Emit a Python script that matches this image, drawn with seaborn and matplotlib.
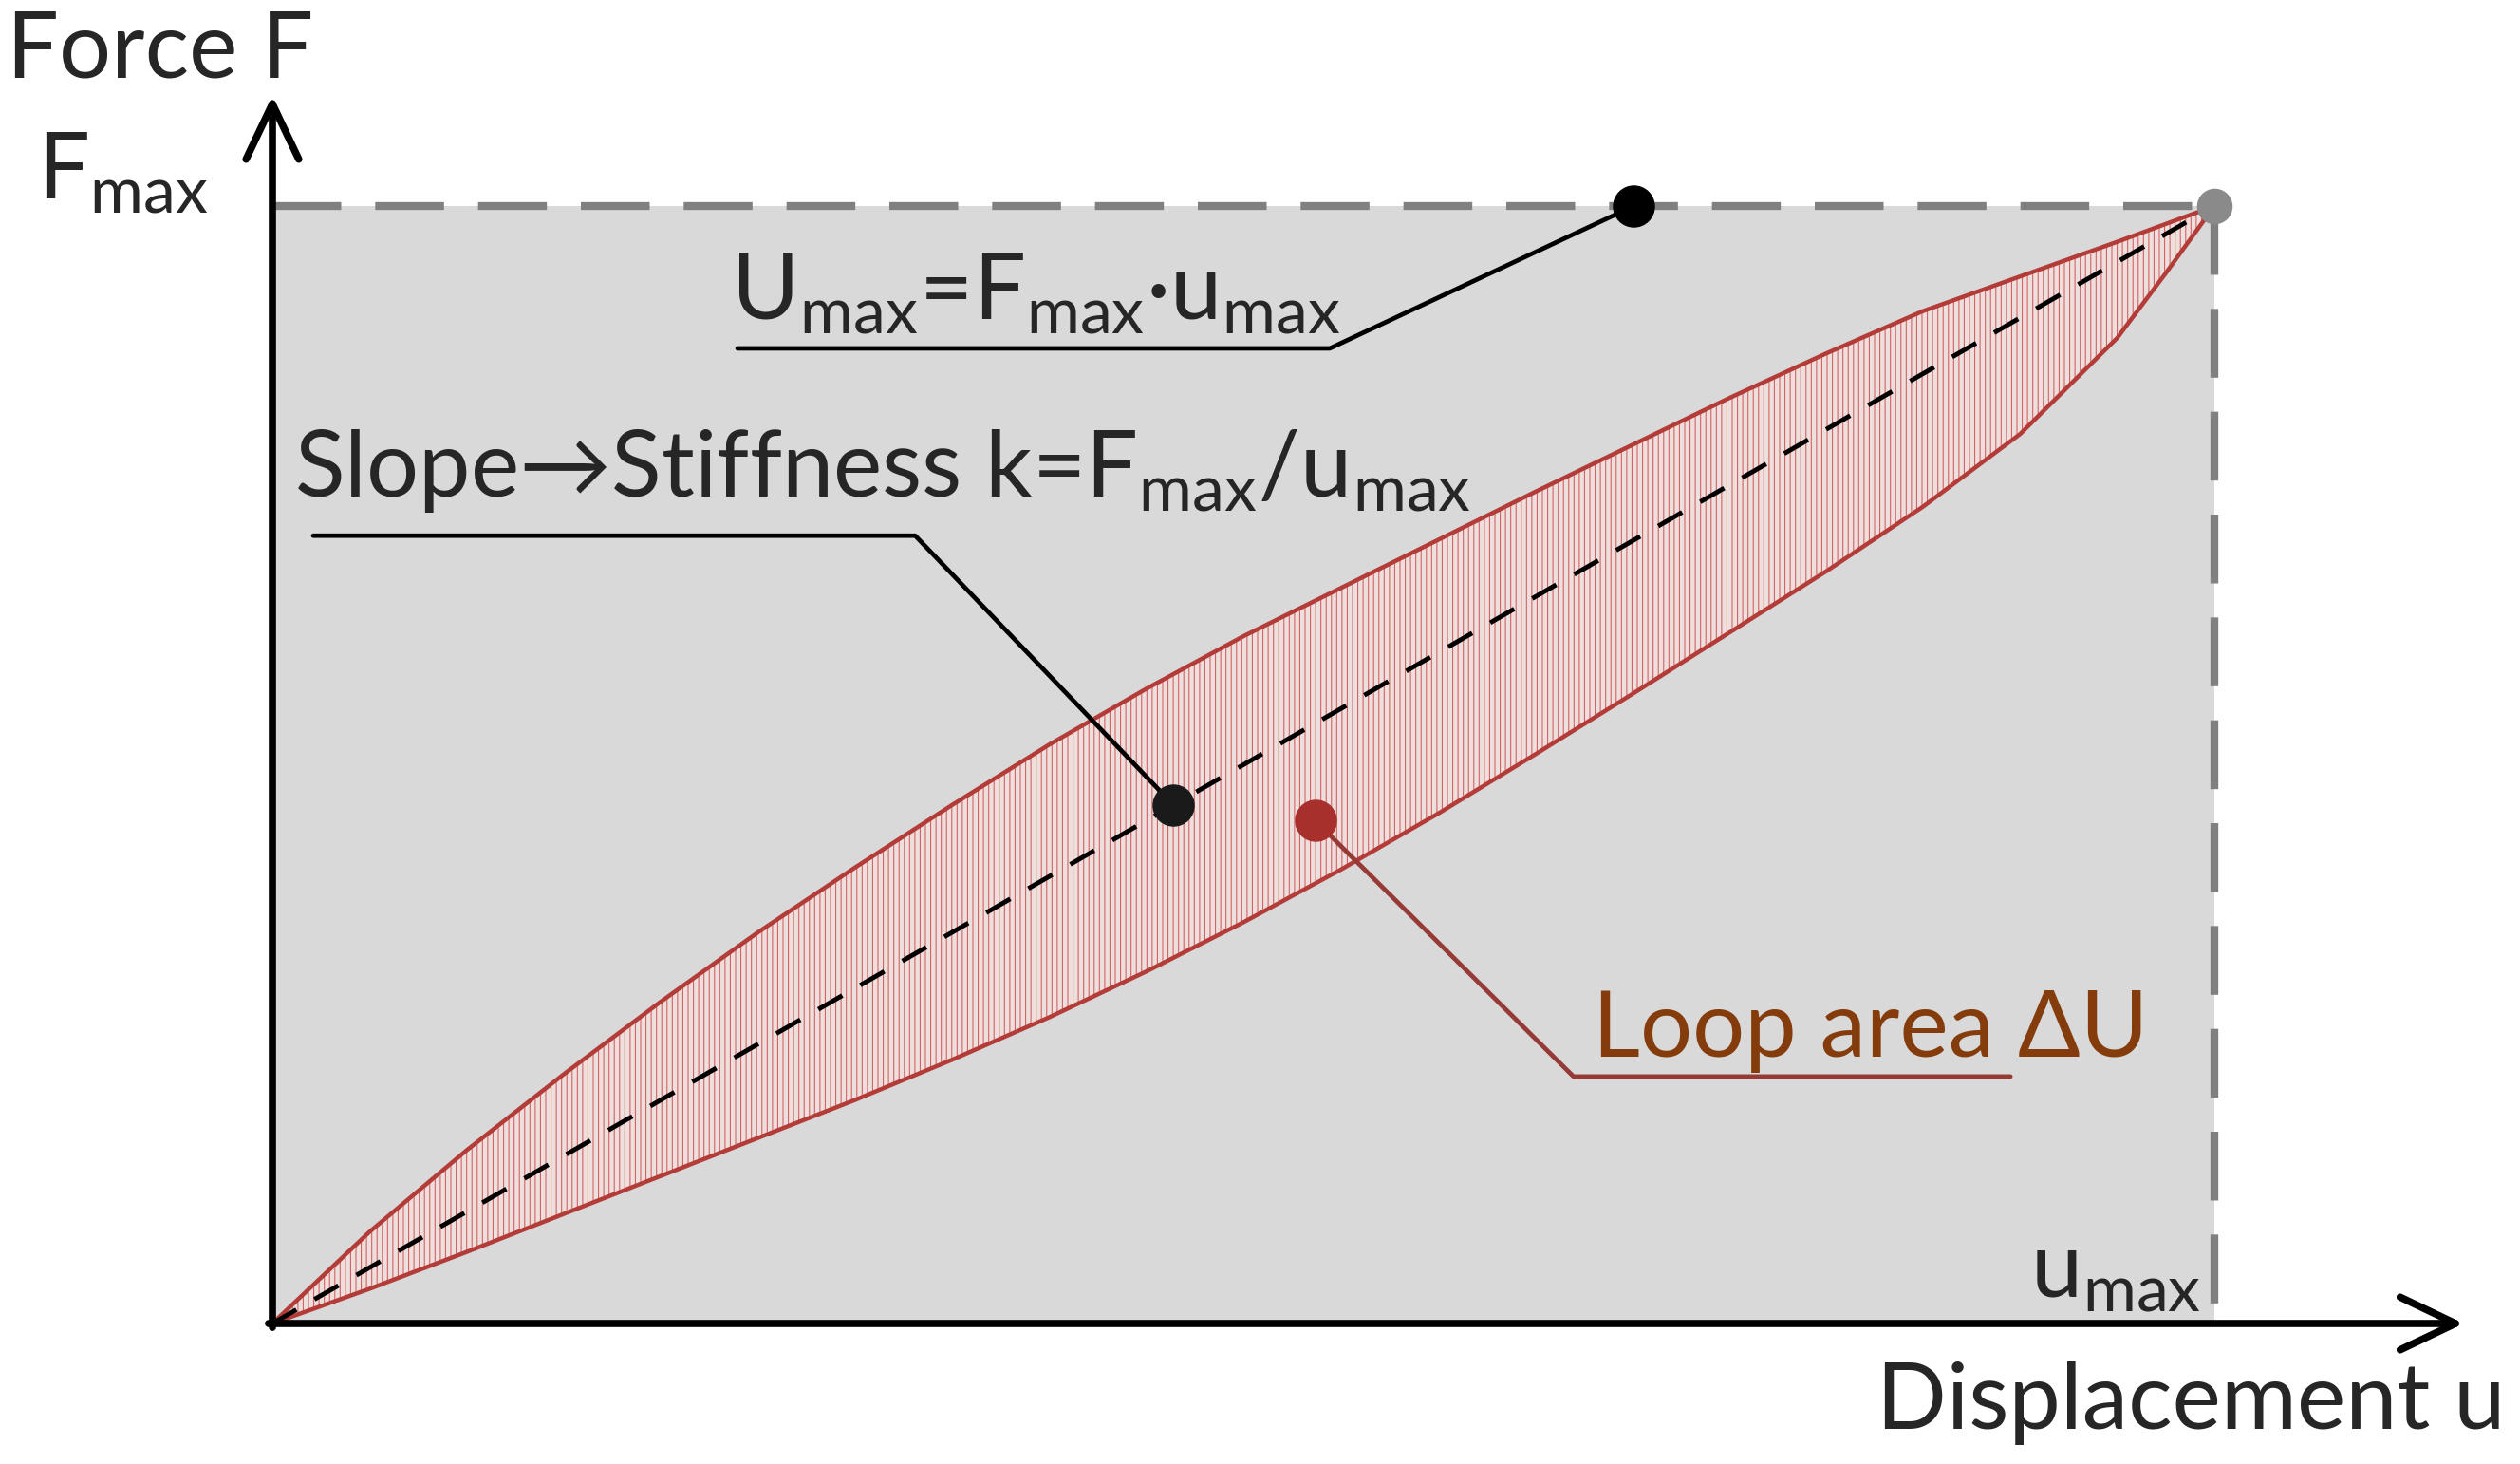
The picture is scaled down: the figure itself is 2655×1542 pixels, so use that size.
import matplotlib
matplotlib.use("Agg")
import pandas as pd
import matplotlib.pyplot as plt
import seaborn as sns

# Hysteresis loop, normalised: displacement u/u_max and force F/F_max
loop_u = [0, 0.05, 0.1, 0.15, 0.2, 0.25, 0.3, 0.35, 0.4, 0.45, 0.5, 0.55, 0.6,
          0.65, 0.7, 0.75, 0.8, 0.85, 0.9, 0.95, 0.975, 1.0]
upper_F = [0, 0.082, 0.155, 0.223, 0.288, 0.350, 0.408, 0.464, 0.518, 0.568, 0.615,
           0.658, 0.701, 0.744, 0.786, 0.828, 0.868, 0.906, 0.937, 0.968, 0.984, 1.0]
lower_F = [0, 0.031, 0.064, 0.098, 0.132, 0.166, 0.200, 0.236, 0.274, 0.315, 0.359,
           0.406, 0.456, 0.509, 0.563, 0.618, 0.673, 0.731, 0.796, 0.882, 0.940, 1.0]

# secant (stiffness) line and the max point
secant_u = [0, 1.0]
secant_F = [0, 1.0]
max_u, max_F = 1.0, 1.0

# annotated points
umax_pt = (0.701, 1.0)
slope_pt = (0.464, 0.464)
loop_pt = (0.537, 0.450)

# labels
force_label = "Force F"
disp_label = "Displacement u"
fmax_label = "F$_\\mathregular{max}$"
umax_label = "u$_\\mathregular{max}$"
energy_label = "U$_\\mathregular{max}$=F$_\\mathregular{max}$·u$_\\mathregular{max}$"
slope_label = "Slope→Stiffness k=F$_\\mathregular{max}$/u$_\\mathregular{max}$"
loop_label = "Loop area ΔU"

sns.set_style("white")
plt.rcParams['font.family'] = ['Lato', 'DejaVu Sans']
plt.rcParams['hatch.linewidth'] = 0.8

LOOP_RED = '#b33c38'
TEXT_BROWN = '#843c0c'
GREY = '#808080'
FS = 70

fig = plt.figure(figsize=(26.55, 15.42), dpi=100)
ax = fig.add_axes([0, 0, 1, 1])
ax.set_xlim(-287 / 2046, 2368 / 2046)
ax.set_ylim(-148 / 1177, 1394 / 1177)
ax.set_axis_off()

# grey work box 0..u_max x 0..F_max
ax.fill_between([0, max_u], 0, max_F, color='#d9d9d9', lw=0, zorder=1)

# hatched loop
ax.fill_between(loop_u, lower_F, upper_F, facecolor='#eedfde',
                edgecolor='#d06662', hatch='|||', linewidth=0, zorder=2)
loop_df = pd.DataFrame({
    'u': loop_u + loop_u,
    'F': upper_F + lower_F,
    'branch': ['upper'] * len(loop_u) + ['lower'] * len(loop_u),
})
sns.lineplot(data=loop_df, x='u', y='F', units='branch', estimator=None,
             sort=False, color=LOOP_RED, lw=3.2, legend=False, ax=ax, zorder=3)

# secant line
ax.plot(secant_u, secant_F, color='black', lw=3.5, dashes=(6, 4.5), zorder=4)

# grey dashed limits
ax.plot([0, max_u], [max_F, max_F], color=GREY, lw=6, dashes=(8.7, 4.3), zorder=4)
ax.plot([max_u, max_u], [max_F, 0], color=GREY, lw=6, dashes=(8.7, 4.3), zorder=4)
ax.plot([max_u], [max_F], 'o', color='#8a8a8a', ms=26, zorder=5)

# axes with open arrow heads
arrow_kw = dict(arrowstyle='->,head_length=2.1,head_width=1.0', mutation_scale=20,
                lw=5.5, color='black', shrinkA=0, shrinkB=0)
ax.annotate('', xy=(1.1285, 0), xytext=(-0.002, 0), arrowprops=arrow_kw, zorder=6)
ax.annotate('', xy=(0, 1.099), xytext=(0, -0.0035), arrowprops=arrow_kw, zorder=6)

# leader lines
ax.plot([0.2395, 0.5445, umax_pt[0]], [0.8726, 0.8726, umax_pt[1]],
        color='black', lw=3.4, zorder=6)
ax.plot([0.021, 0.331, slope_pt[0]], [0.705, 0.705, slope_pt[1]],
        color='black', lw=3.4, zorder=6)
ax.plot([0.895, 0.670, loop_pt[0]], [0.221, 0.221, loop_pt[1]],
        color='#963a36', lw=3.4, zorder=6)
ax.plot(*umax_pt, 'o', color='black', ms=31, zorder=7)
ax.plot(*slope_pt, 'o', color='#1a1a1a', ms=31, zorder=7)
ax.plot(*loop_pt, 'o', color='#a8302c', ms=31, zorder=7)

# texts
ax.text(-0.137, 1.1147, force_label, fontsize=FS, va='baseline', ha='left')
ax.text(-0.121, 1.006, fmax_label, fontsize=FS, va='baseline', ha='left')
ax.text(1.150, -0.094, disp_label, fontsize=FS, va='baseline', ha='right')
ax.text(0.905, 0.023, umax_label, fontsize=FS, va='baseline', ha='left', zorder=8)
ax.text(0.236, 0.898, energy_label, fontsize=FS, va='baseline', ha='left', zorder=8)
ax.text(0.011, 0.74, slope_label, fontsize=FS, va='baseline', ha='left', zorder=8)
ax.text(0.680, 0.2387, loop_label, fontsize=FS, va='baseline', ha='left',
        color=TEXT_BROWN, zorder=8)

fig.savefig("out.png", dpi=100, facecolor='white')
